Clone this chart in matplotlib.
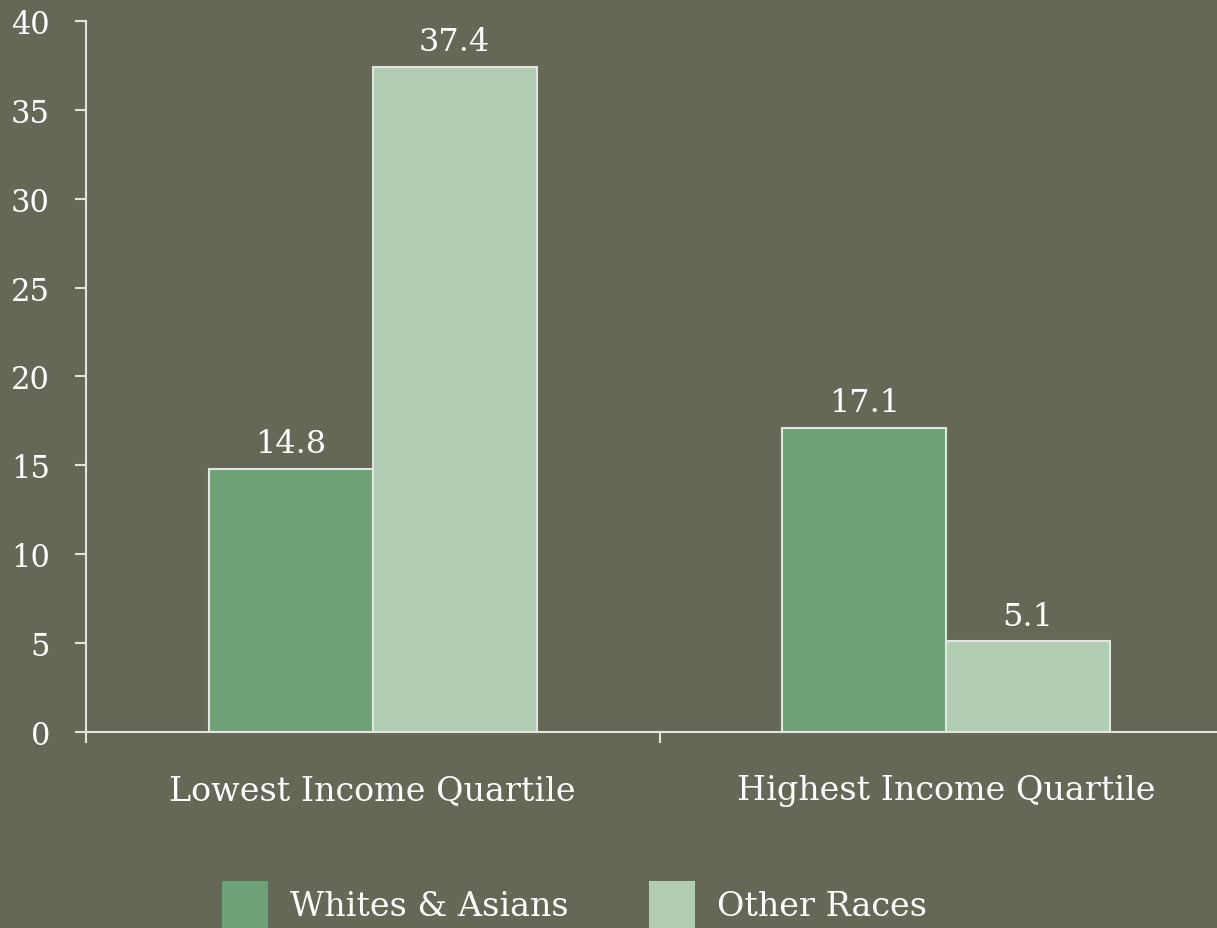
import matplotlib.pyplot as plt
import numpy as np
from matplotlib.patches import Patch

BG = "#656757"
DARK = "#6fa177"
LIGHT = "#b0ccb2"
EDGE = "#e2e4e0"
WHITE = "#ffffff"

categories = ["Lowest Income Quartile", "Highest Income Quartile"]
series_names = ["Whites & Asians", "Other Races"]
whites_asians = [14.8, 17.1]
other_races = [37.4, 5.1]
y_ticks = [0, 5, 10, 15, 20, 25, 30, 35, 40]

plt.rcParams["font.family"] = ["DejaVu Serif"]

fig = plt.figure(figsize=(12.17, 9.29), dpi=100)
fig.patch.set_facecolor(BG)
ax = fig.add_axes([86 / 1217, 196 / 929, 1147 / 1217, 711 / 929])
ax.set_facecolor(BG)

x = np.arange(len(categories))
width = 0.2857
b1 = ax.bar(x - width / 2, whites_asians, width, color=DARK,
            edgecolor=EDGE, linewidth=1.5, zorder=2)
b2 = ax.bar(x + width / 2, other_races, width, color=LIGHT,
            edgecolor=EDGE, linewidth=1.5, zorder=2)

for bars in (b1, b2):
    ax.bar_label(bars, labels=[f"{v:.1f}" for v in bars.datavalues],
                 padding=7, color=WHITE, fontsize=23)

ax.set_xlim(-0.5, 1.5)
ax.set_ylim(0, 40)
ax.set_yticks(y_ticks)
ax.set_xticks(x)
ax.set_xticklabels(categories)
ax.set_xticks([-0.5, 0.5, 1.5], minor=True)

for side in ("top", "right"):
    ax.spines[side].set_visible(False)
for side in ("left", "bottom"):
    ax.spines[side].set_color(EDGE)
    ax.spines[side].set_linewidth(1.5)

ax.tick_params(axis="y", colors=EDGE, labelcolor=WHITE, labelsize=22,
               length=8, width=1.5, pad=18)
ax.tick_params(axis="x", which="major", length=0, labelcolor=WHITE,
               labelsize=24, pad=30)
ax.tick_params(axis="x", which="minor", length=8, width=1.5, colors=EDGE)

handles = [Patch(facecolor=DARK), Patch(facecolor=LIGHT)]
fig.legend(handles, series_names, loc="upper left",
           bbox_to_anchor=(222 / 1217, 1 - 882 / 929), ncol=2,
           frameon=False, fontsize=24, labelcolor=WHITE,
           handlelength=1.38, handleheight=1.8, handletextpad=0.66,
           columnspacing=2.4, borderpad=0, borderaxespad=0)

fig.savefig("out.png", dpi=100, facecolor=BG)
